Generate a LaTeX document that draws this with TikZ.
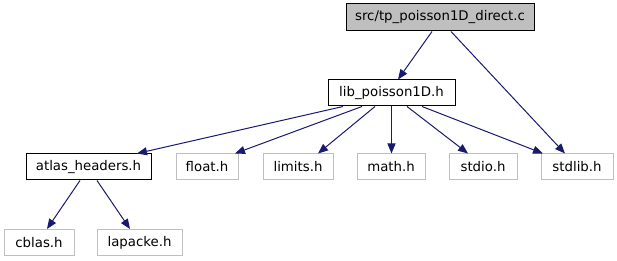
\documentclass[tikz,border=0pt]{standalone}
\usepackage{fontspec}
\setmainfont{DejaVu Sans}
\usetikzlibrary{arrows.meta}

\definecolor{edgeblue}{HTML}{191970}
\definecolor{boxgray}{HTML}{BFBFBF}

\begin{document}
\begin{tikzpicture}[x=1pt, y=-1pt,
		file/.style={draw=black, line width=1pt, inner sep=0pt, minimum height=26pt,
			font=\fontsize{13.3}{16}\selectfont},
		sysfile/.style={file, draw=boxgray},
		incl/.style={-{Triangle[length=10pt,width=8pt]}, edgeblue, line width=1pt}]
	\useasboundingbox (0,0) rectangle (617,261);
	
	% source file and its headers
	\node[file, fill=boxgray, minimum width=188pt, minimum height=27pt] (main) at (440,17.5) {src/tp\_poisson1D\_direct.c};
	\node[file, minimum width=127pt] (lib) at (391.5,93) {lib\_poisson1D.h};
	
	\node[file, minimum width=125pt] (atlas) at (88.5,167) {atlas\_headers.h};
	\node[sysfile, minimum width=62pt] (float) at (207,167) {float.h};
	\node[sysfile, minimum width=70pt] (limits) at (298,167) {limits.h};
	\node[sysfile, minimum width=68pt] (math) at (391,167) {math.h};
	\node[sysfile, minimum width=68pt] (stdio) at (483,167) {stdio.h};
	\node[sysfile, minimum width=72pt] (stdlib) at (577,167) {stdlib.h};
	
	\node[sysfile, minimum width=70pt] (cblas) at (39,242.5) {cblas.h};
	\node[sysfile, minimum width=85pt] (lapacke) at (139.5,242.5) {lapacke.h};
	
	% include edges
	\draw[incl] ([xshift=-8pt]main.south) -- ([xshift=6.5pt]lib.north);
	\draw[incl] ([xshift=11pt]main.south) -- ([xshift=-12pt]stdlib.north);
	
	\draw[incl] ([xshift=-48.5pt]lib.south) -- ([xshift=48.5pt]atlas.north);
	\draw[incl] ([xshift=-29.5pt]lib.south) -- ([xshift=28pt]float.north);
	\draw[incl] ([xshift=-16.5pt]lib.south) -- ([xshift=20pt]limits.north);
	\draw[incl] (lib.south) -- ([xshift=0.5pt]math.north);
	\draw[incl] ([xshift=15.5pt]lib.south) -- ([xshift=-15pt]stdio.north);
	\draw[incl] ([xshift=30.5pt]lib.south) -- ([xshift=-34pt]stdlib.north);
	
	\draw[incl] ([xshift=-8.5pt]atlas.south) -- ([xshift=8pt]cblas.north);
	\draw[incl] ([xshift=8.5pt]atlas.south) -- ([xshift=-9.5pt]lapacke.north);
\end{tikzpicture}
\end{document}
